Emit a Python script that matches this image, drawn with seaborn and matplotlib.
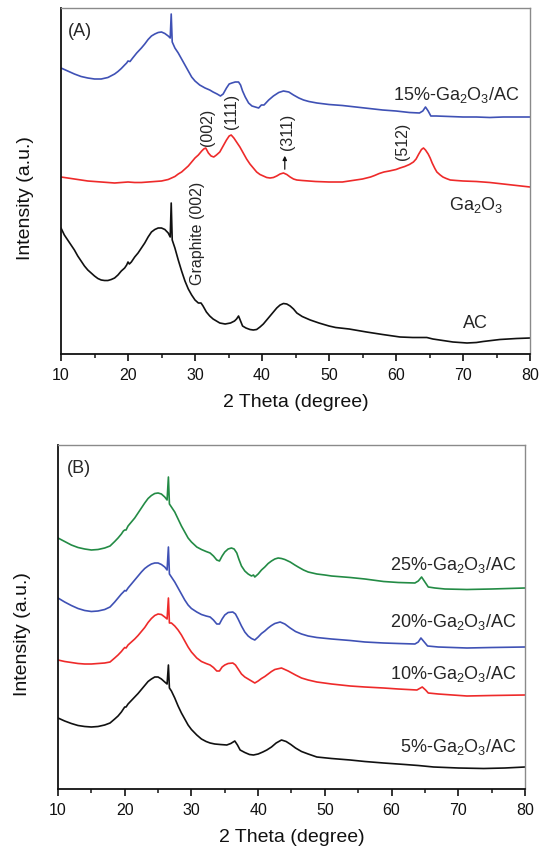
import numpy as np
import pandas as pd
import matplotlib
matplotlib.use("Agg")
import matplotlib.pyplot as plt
import seaborn as sns

# ---------------- data: (2theta, intensity a.u.) ----------------
# Panel A
a15 = [(10, 286), (11, 283), (12, 280), (13, 277.5), (14, 276), (15, 275), (16, 275), (17, 276.5), (18, 280),
       (18.5, 282.5), (19, 285.5), (19.5, 289), (19.8, 291), (20.0, 293), (20.3, 292.5), (20.7, 296), (21.3, 301),
       (22, 306), (22.5, 310), (23, 314.5), (23.5, 318), (24, 320), (24.5, 321.5), (25, 322), (25.5, 320.5),
       (26, 318), (26.3, 316), (26.45, 340), (26.6, 312), (27, 306), (27.5, 301), (28, 295), (28.5, 289),
       (29, 283), (29.5, 277), (30, 273), (30.7, 269), (31.5, 266), (32.2, 264), (32.7, 262), (33.3, 260),
       (33.8, 258), (34.2, 260), (34.7, 266), (35.1, 270), (35.5, 271), (36, 272), (36.5, 272), (36.8, 269),
       (37.1, 263), (37.5, 257), (38, 251), (38.5, 248), (39, 247), (39.5, 246), (39.9, 249), (40.3, 249),
       (41, 254), (41.7, 258), (42.5, 261.5), (43.2, 263), (44, 262), (44.7, 259), (45.5, 256), (46.2, 254),
       (47, 252.5), (48.2, 251), (50, 249.5), (52, 248.5), (54, 247), (56, 245.5), (58, 244), (60, 243),
       (62, 241.5), (63.5, 241), (64, 243), (64.4, 247), (64.8, 243), (65.2, 238), (66, 238), (68, 237.5),
       (70, 237), (72, 237), (74, 236.5), (76, 237), (78, 237), (80, 237)]

ga = [(10, 177), (11, 176), (12, 175), (13, 174), (14, 173), (15, 172.5), (16, 172), (17, 171.5), (18, 171),
      (19, 171.5), (20, 172), (21, 171.5), (22, 171.5), (23, 172), (24, 172.5), (25, 173), (26, 174.5),
      (27, 177.5), (27.5, 180), (28, 182), (28.5, 185), (29, 188), (29.5, 192), (30, 196), (30.5, 199),
      (31, 203), (31.3, 205), (31.6, 206), (32, 201), (32.4, 198), (32.8, 197), (33.2, 199), (33.7, 202),
      (34.2, 208), (34.7, 214), (35.1, 218), (35.4, 219), (35.8, 216), (36.2, 212), (36.7, 207), (37.2, 201),
      (37.7, 195), (38.2, 190), (38.7, 186), (39.2, 182), (39.7, 179.5), (40.2, 178), (40.7, 176.5),
      (41.2, 176), (41.7, 176.5), (42.2, 178), (42.7, 180), (43.2, 181), (43.7, 179.5), (44.2, 177),
      (44.7, 175), (45.2, 174), (46, 173.5), (47, 173), (48, 172.5), (50, 172), (52, 172), (53, 173), (54, 174),
      (55, 175), (55.6, 176), (56.2, 177), (56.8, 178.5), (57.5, 180.5), (58.2, 182), (59, 183), (60, 184.5),
      (60.6, 186), (61.3, 187.5), (62, 189.5), (62.6, 192), (63, 195), (63.4, 200), (63.8, 204.5), (64.1, 206),
      (64.4, 204), (64.8, 200), (65.1, 196), (65.4, 191), (65.8, 185.5), (66.1, 182), (66.6, 179), (67, 177),
      (67.5, 175.5), (68.1, 174), (69, 173.5), (70, 173), (72, 172.5), (74, 171.5), (76, 170), (78, 168.5),
      (80, 167)]

ac = [(10, 126), (10.5, 119), (11, 114), (11.5, 109), (12, 104), (12.5, 98), (13, 93), (13.5, 88), (14, 84),
      (14.5, 81), (15, 78), (15.5, 75.5), (16, 74), (16.5, 73.5), (17, 73.5), (17.5, 74.5), (18, 76), (18.5, 79),
      (19, 83), (19.5, 86), (19.8, 89), (20.0, 92), (20.2, 90), (20.5, 92), (21, 97), (21.5, 101), (22, 106),
      (22.5, 111), (23, 117), (23.5, 122), (24, 124.5), (24.5, 126), (25, 126), (25.5, 124.5), (26, 121),
      (26.3, 117), (26.45, 151), (26.6, 114), (27, 106), (27.5, 94), (28, 83), (28.5, 73), (29, 65), (29.5, 59),
      (30, 54), (30.5, 51), (30.9, 51), (31.2, 48), (31.7, 42), (32.2, 38), (32.7, 35), (33.2, 33), (33.7, 31),
      (34.5, 30), (35.3, 31), (35.9, 33), (36.2, 35), (36.5, 38), (36.8, 33), (37.1, 28), (37.6, 26),
      (38.2, 24.5), (38.7, 24), (39.2, 24.5), (39.7, 27), (40.2, 30), (40.7, 34), (41.2, 38), (41.7, 42),
      (42.2, 46), (42.7, 49), (43.2, 50.5), (43.7, 50), (44.2, 48), (44.7, 45), (45.2, 41), (46, 37.5),
      (47.2, 34), (48.5, 31), (50, 28), (51, 26.5), (53, 25), (55.6, 22), (58, 19.5), (60.6, 17), (62.5, 16.5),
      (64.6, 16.5), (65.5, 15), (67, 13.5), (68.5, 12), (70.6, 11), (72, 11.5), (73, 12.5), (75.5, 14.5),
      (78, 15.5), (80, 16)]

# Panel B
b25 = [(10, 251), (11, 247.5), (12, 244), (13, 241.5), (14, 240), (15, 239), (16, 239.5), (17, 241), (17.8, 243),
       (18.5, 247.5), (19, 251), (19.5, 255), (19.8, 258), (20.0, 259), (20.2, 259), (20.5, 263), (21, 267),
       (21.5, 271), (22, 276), (22.5, 281), (23, 286), (23.5, 290.5), (24, 293.5), (24.5, 295.5), (25, 296),
       (25.5, 295), (26, 292), (26.35, 289), (26.55, 312), (26.7, 285), (27, 282), (27.5, 277), (28, 270),
       (28.5, 263), (29, 257), (29.5, 251), (30, 247), (30.8, 242), (31.5, 239.5), (32.2, 237.5), (32.8, 236),
       (33.3, 233), (33.8, 229), (34.2, 228), (34.6, 233), (35, 237), (35.5, 240), (36, 241), (36.4, 240),
       (36.8, 236), (37.1, 230), (37.5, 223), (38, 218), (38.5, 215), (39, 213), (39.3, 214), (39.5, 212),
       (40, 215), (40.5, 219), (41, 222), (41.5, 225.5), (42, 228), (42.5, 230), (43, 231), (43.5, 230.5),
       (44, 229.5), (44.8, 227), (45.5, 224), (46, 222), (46.8, 219), (47.5, 217), (48.8, 215), (50, 214),
       (51, 213), (53.8, 211.5), (56, 210), (58.8, 207.5), (61, 206.5), (63.5, 206), (64, 208), (64.5, 212),
       (65, 207), (65.5, 202), (66.5, 201), (68, 200), (71.3, 199.5), (75, 200), (80, 201)]

b20 = [(10, 191), (11, 187), (12, 183.5), (13, 180.5), (14, 178.5), (15, 177.5), (16, 178), (17, 179.5),
       (17.8, 182), (18.5, 187), (19, 191), (19.5, 195), (19.8, 197), (20.0, 198.5), (20.2, 198), (20.5, 201),
       (21, 205), (21.5, 209), (22, 213), (22.5, 217), (23, 220.5), (23.5, 223), (24, 225), (24.5, 226), (25, 226),
       (25.5, 224.5), (26, 222), (26.35, 219), (26.55, 242), (26.7, 215), (27, 212), (27.5, 207), (28, 201),
       (28.5, 195), (29, 189), (29.5, 184), (30, 180.5), (30.8, 177), (31.5, 174.5), (32.2, 173), (32.8, 172),
       (33.3, 169), (33.8, 165), (34.2, 165), (34.6, 170), (35, 174), (35.5, 176.5), (36.2, 177), (36.6, 175),
       (37, 170), (37.5, 163), (38, 157), (38.5, 153), (39, 150.5), (39.5, 149), (40, 152), (40.5, 155.5),
       (41, 158), (41.5, 161), (42, 163.5), (42.5, 165.5), (43.3, 167), (44, 165), (44.8, 161), (45.6, 157.5),
       (46.5, 155), (47.5, 153), (48.8, 151.5), (51, 150), (53.8, 148.5), (56, 147), (58.8, 146), (61, 145.5),
       (63.5, 145), (64, 147), (64.4, 151), (64.9, 147), (65.4, 143), (67, 142), (71.3, 141), (75, 141.5),
       (80, 142)]

b10 = [(10, 129), (11, 127.5), (12, 126.5), (13, 125.5), (14, 125), (15, 125), (16, 125.5), (17, 126),
       (17.8, 127), (18.5, 131), (19, 134), (19.5, 137.5), (19.8, 140), (20.0, 141.5), (20.2, 141), (20.5, 144),
       (21, 147), (21.5, 150), (22, 153.5), (22.5, 157.5), (23, 161.5), (23.5, 166.5), (24, 170.5), (24.5, 173.5),
       (25, 175), (25.5, 174.5), (26, 172), (26.35, 170), (26.55, 191), (26.7, 166), (27, 166), (27.5, 163),
       (28, 159), (28.5, 154), (29, 148), (29.5, 142), (30, 137), (30.8, 131), (31.5, 127.5), (32.2, 125.5),
       (32.8, 124), (33.3, 121.5), (33.8, 118), (34.2, 118), (34.6, 122), (35, 124), (35.5, 125.5), (36.2, 126),
       (36.6, 124), (37, 120), (37.5, 115), (38, 112), (38.5, 110), (39, 108), (39.5, 106), (40, 108),
       (40.5, 110.5), (41, 112.5), (41.5, 115), (42, 117.5), (42.5, 119.5), (43.5, 121), (44.5, 118),
       (45.6, 114), (46.5, 111), (47.5, 109), (48.8, 107), (51, 105), (53.8, 103), (56, 102), (58.8, 101),
       (61, 100), (63.8, 99), (64.6, 102), (65.1, 99), (65.5, 96), (67, 95), (71.3, 93), (75, 93.5), (80, 94)]

b5 = [(10, 71), (11, 68), (12, 65.5), (13, 63.5), (14, 62.5), (15, 62), (16, 62.5), (17, 64), (17.8, 66),
      (18.5, 70), (19, 73), (19.5, 77), (19.8, 80), (20.0, 82), (20.2, 82), (20.5, 85), (21, 88.5), (21.5, 92),
      (22, 95.5), (22.5, 99.5), (23, 103.5), (23.5, 107.5), (24, 110), (24.5, 112), (25, 112), (25.5, 110),
      (26, 107), (26.35, 105), (26.55, 124), (26.7, 101), (27, 98), (27.5, 91), (28, 83), (28.5, 76), (29, 70),
      (29.5, 64), (30, 59.5), (30.8, 54), (31.5, 50), (32.2, 47.5), (32.8, 46), (33.5, 45), (34.3, 44.5),
      (35.3, 44), (35.9, 45.5), (36.5, 48), (36.9, 44), (37.3, 39), (38, 36.5), (38.7, 34.5), (39.3, 34),
      (40, 35), (40.7, 37), (41.3, 39), (42, 42), (42.7, 46), (43.5, 49), (44.2, 47.5), (44.9, 44.5), (45.6, 41),
      (46.5, 37.5), (47.5, 35), (48.8, 32), (51, 30.5), (53.8, 29), (56, 27.5), (58.8, 26), (62, 24.5),
      (64, 23.5), (66.3, 22), (70, 21), (73.8, 20.5), (77, 21), (80, 22)]

xticks = [10, 20, 30, 40, 50, 60, 70, 80]
minor_xticks = [15, 25, 35, 45, 55, 65, 75]

# ---------------- style ----------------
sns.set_theme(style="white")
plt.rcParams['font.family'] = ['Liberation Sans', 'DejaVu Sans']
plt.rcParams['mathtext.fontset'] = 'custom'
plt.rcParams['mathtext.rm'] = 'Liberation Sans'
plt.rcParams['mathtext.it'] = 'Liberation Sans:italic'
plt.rcParams['mathtext.bf'] = 'Liberation Sans:bold'

GA = r'Ga$_\mathregular{2}$O$_\mathregular{3}$'

fig = plt.figure(figsize=(5.41, 8.51), dpi=100)
axA = fig.add_axes([61/541, 1-354/851, 469/541, 346/851])
axB = fig.add_axes([58/541, 1-789/851, 467/541, 344/851])


def mkdf(pairs):
    frames = []
    for name, pts in pairs:
        th, it = zip(*pts)
        frames.append(pd.DataFrame({'theta': th, 'I': it, 'sample': name}))
    return pd.concat(frames, ignore_index=True)


dfA = mkdf([('15%', a15), ('Ga2O3', ga), ('AC', ac)])
dfB = mkdf([('25%', b25), ('20%', b20), ('10%', b10), ('5%', b5)])

palA = {'15%': '#3f51b5', 'Ga2O3': '#ee2a2a', 'AC': '#111111'}
palB = {'25%': '#238b45', '20%': '#3f51b5', '10%': '#ee2a2a', '5%': '#111111'}

sns.lineplot(data=dfA, x='theta', y='I', hue='sample', palette=palA, legend=False,
             ax=axA, linewidth=1.2, sort=True, estimator=None)
sns.lineplot(data=dfB, x='theta', y='I', hue='sample', palette=palB, legend=False,
             ax=axB, linewidth=1.2, sort=True, estimator=None)

for ax, ymax in ((axA, 346), (axB, 344)):
    ax.set_xlim(10, 80)
    ax.set_ylim(0, ymax)
    ax.set_xticks(xticks)
    ax.set_xticks(minor_xticks, minor=True)
    ax.set_yticks([])
    ax.tick_params(axis='x', which='major', direction='out', length=5, width=1.2,
                   labelsize=11.5, colors='#111111', bottom=True, top=False, pad=5)
    ax.tick_params(axis='x', which='minor', direction='out', length=3, width=1.2, bottom=True, top=False)
    ax.set_xlabel('2 Theta (degree)', fontsize=14, color='#111111', labelpad=8)
    ax.set_ylabel('Intensity (a.u.)', fontsize=14, color='#111111')
    ax.yaxis.set_label_coords(-0.058, 0.45)
    for s in ('left', 'bottom'):
        ax.spines[s].set_color('#111111')
        ax.spines[s].set_linewidth(1.3)
    for s in ('top', 'right'):
        ax.spines[s].set_color('#8a8a8a')
        ax.spines[s].set_linewidth(1.0)

# Panel A texts
axA.text(0.015, 0.932, '(A)', transform=axA.transAxes, fontsize=13, va='center', ha='left')
axA.text(78.5, 259, '15%-' + GA + '/AC', fontsize=13, ha='right', va='center')
axA.text(71.9, 149, GA, fontsize=13, ha='center', va='center')
axA.text(71.8, 31, 'AC', fontsize=13, ha='center', va='center')
axA.text(31.8, 227, '(002)', fontsize=11.5, rotation=90, ha='center', va='center')
axA.text(35.5, 243, '(111)', fontsize=11.5, rotation=90, ha='center', va='center')
axA.text(43.8, 222, '(311)', fontsize=11.5, rotation=90, ha='center', va='center')
axA.text(61.0, 213, '(512)', fontsize=11.5, rotation=90, ha='center', va='center')
axA.text(30.3, 121, 'Graphite (002)', fontsize=11.5, rotation=90, ha='center', va='center')
axA.annotate('', xy=(43.4, 201), xytext=(43.4, 182),
             arrowprops=dict(arrowstyle='-|>', color='#111111', lw=0.9, mutation_scale=6))

# Panel B texts
axB.text(0.02, 0.932, '(B)', transform=axB.transAxes, fontsize=13, va='center', ha='left')
axB.text(78.8, 224, '25%-' + GA + '/AC', fontsize=13, ha='right', va='center')
axB.text(78.8, 167, '20%-' + GA + '/AC', fontsize=13, ha='right', va='center')
axB.text(78.8, 115, '10%-' + GA + '/AC', fontsize=13, ha='right', va='center')
axB.text(78.8, 42, '5%-' + GA + '/AC', fontsize=13, ha='right', va='center')

fig.savefig('out.png', dpi=100)
